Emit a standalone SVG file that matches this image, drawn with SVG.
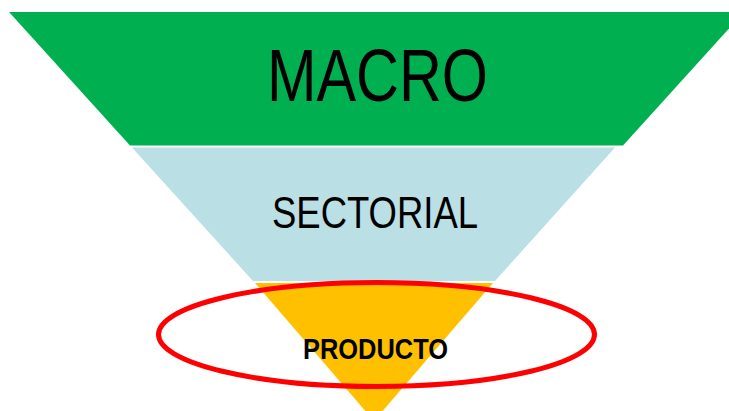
<svg xmlns="http://www.w3.org/2000/svg" width="729" height="411" viewBox="0 0 729 411">
<style>
.lbl{font-family:"Liberation Sans",Arial,sans-serif;fill:#000;text-anchor:middle}
</style>
<rect width="729" height="411" fill="#fff"/>
<g id="macro">
<polygon points="9,12 744,12 623,145.5 130,145.5" fill="#00B050"/>
<text class="lbl" x="377.5" y="101" font-size="75" textLength="221" lengthAdjust="spacingAndGlyphs">MACRO</text>
</g>
<g id="sectorial">
<polygon points="132,147.5 615,147.5 495,281 253,281" fill="#BADFE4"/>
<text class="lbl" x="375" y="228" font-size="45" textLength="206" lengthAdjust="spacingAndGlyphs">SECTORIAL</text>
</g>
<g id="producto">
<polygon points="255,283 493,283 374,421" fill="#FFC000"/>
<ellipse cx="376.5" cy="334.5" rx="218" ry="52" fill="none" stroke="#FF0000" stroke-width="5"/>
<text class="lbl" x="375.5" y="359" font-size="29" font-weight="bold" textLength="145" lengthAdjust="spacingAndGlyphs">PRODUCTO</text>
</g>
</svg>
